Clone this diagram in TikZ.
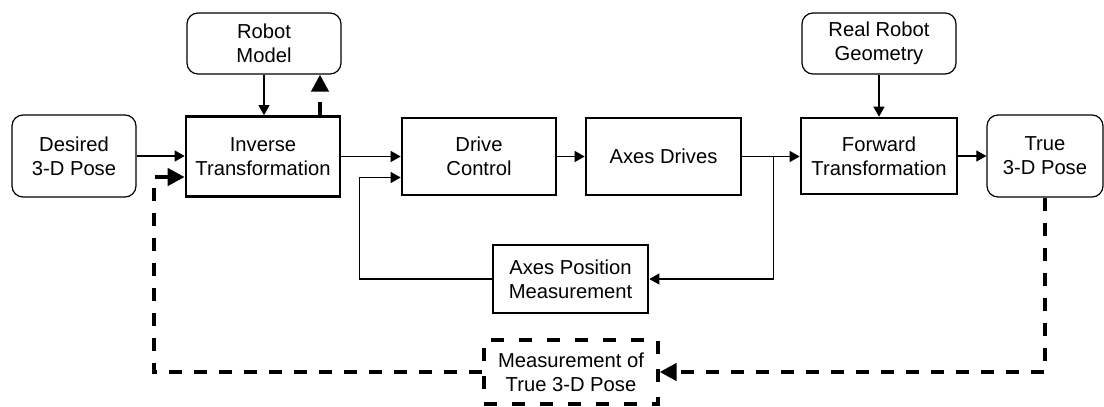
\documentclass[tikz,border=0pt]{standalone}
\usepackage{fontspec}
\setmainfont{Liberation Sans}
\usetikzlibrary{arrows.meta,calc}

\tikzset{
  lbl/.style={align=center, font=\fontsize{10.1}{12}\selectfont, inner sep=0pt},
  blockbox/.style={lbl, draw, line width=1.3pt, minimum width=77pt, minimum height=38.5pt},
  roundbox/.style={lbl, draw, line width=0.6pt, rounded corners=5.5pt},
  measbox/.style={lbl, draw, line width=1.6pt, dash pattern=on 6.5pt off 7.5pt,
                  minimum width=87pt, minimum height=32pt},
  arr/.style={line width=0.55pt, -{Triangle[length=5pt,width=5.5pt]}},
  plain/.style={line width=0.55pt},
  dasharr/.style={line width=2pt, dash pattern=on 6.5pt off 6pt,
                  -{Triangle[length=8.5pt,width=8.5pt]}},
}

\begin{document}
\begin{tikzpicture}[x=0.5pt, y=-0.5pt]
  \useasboundingbox (0,0) rectangle (1104,407);

  % upper row of blocks
  \node[roundbox, minimum width=62pt, minimum height=41pt] (desired) at (74,156) {Desired\\3-D Pose};
  \node[roundbox, minimum width=77pt, minimum height=30.5pt] (robot) at (264,43.5) {Robot\\Model};
  \node[blockbox, minimum height=40pt] (inv) at (263,156.5) {Inverse\\Transformation};
  \node[blockbox] (drive) at (479,156.5) {Drive\\Control};
  \node[blockbox, minimum width=77.5pt] (axes) at (663.5,156.5) {Axes Drives};
  \node[blockbox, minimum width=78pt, minimum height=38pt] (fwd) at (879,156) {Forward\\Transformation};
  \node[roundbox, minimum width=77pt, minimum height=30.5pt] (geo) at (879,43.5) {Real Robot\\Geometry};
  \node[roundbox, minimum width=58pt, minimum height=41pt] (true) at (1045,156) {True\\3-D Pose};

  % inner loop and outer measurement
  \node[blockbox, minimum width=77.5pt, minimum height=34pt] (apm) at (570.5,279) {Axes Position\\Measurement};
  \node[measbox] (meas) at (571,372) {Measurement of\\True 3-D Pose};

  % forward signal path
  \draw[arr] (desired.east) -- (desired.east -| inv.west);
  \draw[arr] (robot.south) -- (robot.south |- inv.north);
  \draw[arr] (inv.east) -- (inv.east -| drive.west);
  \draw[arr] (drive.east) -- (drive.east -| axes.west);
  \draw[arr] (axes.east) -- (axes.east -| fwd.west);
  \draw[arr] (geo.south) -- (geo.south |- fwd.north);
  \draw[arr] (fwd.east) -- (fwd.east -| true.west);

  % update of the robot model
  \coordinate (up) at ($(inv.north)+(57,0)$);
  \draw[dasharr] (up) -- (up |- robot.south);

  % axes position feedback
  \coordinate (br) at ($(axes.east)+(31,0)$);
  \draw[arr] (br) |- (apm.east);
  \coordinate (fb) at ($(drive.west)+(-41,21)$);
  \draw[arr] (apm.west) -| (fb) -- (fb -| drive.west);

  % pose measurement feedback
  \draw[dasharr] (true.south) |- (meas.east);
  \coordinate (dl) at ($(inv.west)+(-31,20.5)$);
  \draw[dasharr] (meas.west) -| (dl) -- (dl -| inv.west);
\end{tikzpicture}
\end{document}
